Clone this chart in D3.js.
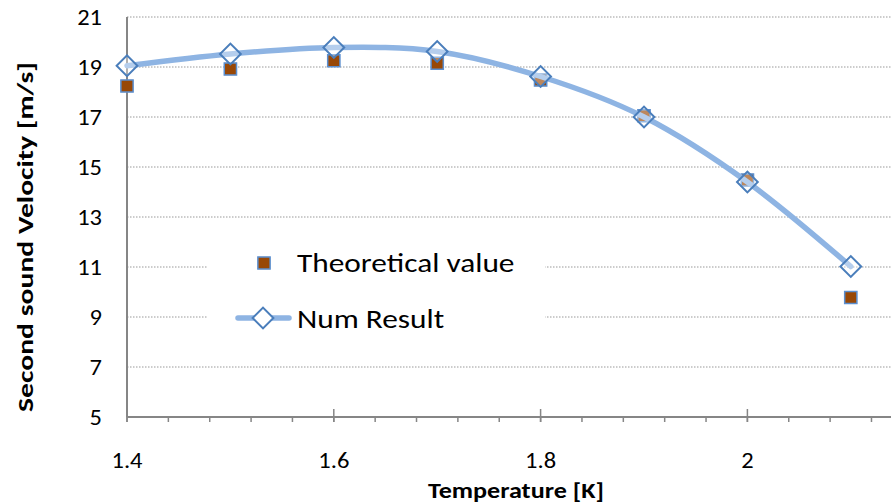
<!DOCTYPE html>
<html lang="en">
<head>
  <meta charset="UTF-8">
  <title>Second sound velocity</title>
  <script src="https://d3js.org/d3.v7.min.js"></script>
  <style>
    body { margin: 0; background: #fff; }
    text { font-family: Calibri, Carlito, Lato, sans-serif; fill: #000; }
  </style>
</head>
<body>
<svg width="891" height="504"></svg>
<script>
  // data
  var temperature = [1.4, 1.5, 1.6, 1.7, 1.8, 1.9, 2.0, 2.1];
  var theoretical = [18.24, 18.92, 19.25, 19.15, 18.48, 17.05, 14.48, 9.78];
  var numResult = [19.05, 19.52, 19.78, 19.62, 18.62, 17.0, 14.4, 11.02];
  var yTicks = [5, 7, 9, 11, 13, 15, 17, 19, 21];
  var xTicks = [1.4, 1.6, 1.8, 2.0];
  var xMinorTicks = d3.range(1.4, 2.15, 0.04);

  var svg = d3.select('svg');

  var x = d3.scaleLinear().domain([1.4, 2.15]).range([127, 902.5]);
  var y = d3.scaleLinear().domain([5, 21]).range([417, 17]);
  var right = 891;
  var stretch = 1.14; // text in the original is a little wide

  var axisColor = '#868686';

  // gridlines
  svg.append('g')
    .selectAll('line')
    .data(yTicks.filter(function (d) { return d > 5; }))
    .enter().append('line')
    .attr('x1', x(1.4))
    .attr('x2', right)
    .attr('y1', function (d) { return y(d); })
    .attr('y2', function (d) { return y(d); })
    .attr('stroke', '#999')
    .attr('stroke-width', 1)
    .attr('stroke-dasharray', '1.5,1.5');

  // y tick labels
  svg.append('g')
    .selectAll('text')
    .data(yTicks)
    .enter().append('text')
    .attr('transform', function (d) { return 'translate(102,' + y(d) + ') scale(' + stretch + ',1)'; })
    .attr('dy', '0.36em')
    .attr('text-anchor', 'end')
    .style('font-size', '21.5px')
    .text(function (d) { return d; });

  // x minor ticks (outside)
  svg.append('g')
    .selectAll('line')
    .data(xMinorTicks)
    .enter().append('line')
    .attr('x1', function (d) { return x(d); })
    .attr('x2', function (d) { return x(d); })
    .attr('y1', y(5))
    .attr('y2', y(5) + 5)
    .attr('stroke', axisColor)
    .attr('stroke-width', 1.5);

  // x major ticks (cross)
  svg.append('g')
    .selectAll('line')
    .data(xTicks)
    .enter().append('line')
    .attr('x1', function (d) { return x(d); })
    .attr('x2', function (d) { return x(d); })
    .attr('y1', y(5) - 8)
    .attr('y2', y(5) + 5)
    .attr('stroke', axisColor)
    .attr('stroke-width', 1.5);

  // x tick labels
  svg.append('g')
    .selectAll('text')
    .data(xTicks)
    .enter().append('text')
    .attr('transform', function (d) { return 'translate(' + x(d) + ',468) scale(' + stretch + ',1)'; })
    .attr('text-anchor', 'middle')
    .style('font-size', '21.5px')
    .text(function (d) { return +d.toFixed(1); });

  // axis lines
  svg.append('line')
    .attr('x1', x(1.4)).attr('x2', x(1.4))
    .attr('y1', y(21)).attr('y2', y(5))
    .attr('stroke', axisColor).attr('stroke-width', 2);
  svg.append('line')
    .attr('x1', x(1.4)).attr('x2', right)
    .attr('y1', y(5)).attr('y2', y(5))
    .attr('stroke', axisColor).attr('stroke-width', 2);

  // axis titles
  svg.append('text')
    .attr('transform', 'translate(33,237) rotate(-90)')
    .attr('text-anchor', 'middle')
    .attr('textLength', 350)
    .attr('lengthAdjust', 'spacingAndGlyphs')
    .style('font-size', '22px')
    .style('font-weight', 'bold')
    .text('Second sound Velocity [m/s]');

  svg.append('text')
    .attr('x', 516)
    .attr('y', 498)
    .attr('text-anchor', 'middle')
    .attr('textLength', 176)
    .attr('lengthAdjust', 'spacingAndGlyphs')
    .style('font-size', '22px')
    .style('font-weight', 'bold')
    .text('Temperature [K]');

  var theo = temperature.map(function (t, i) { return {t: t, v: theoretical[i]}; });
  var num = temperature.map(function (t, i) { return {t: t, v: numResult[i]}; });

  var square = d3.symbol().type(d3.symbolSquare).size(150);
  var diamond = d3.symbol().type(d3.symbolSquare).size(215);

  // theoretical squares
  svg.append('g')
    .selectAll('path')
    .data(theo)
    .enter().append('path')
    .attr('transform', function (d) { return 'translate(' + x(d.t) + ',' + y(d.v) + ')'; })
    .attr('d', square)
    .attr('fill', '#984807')
    .attr('stroke', '#5b8fd0')
    .attr('stroke-width', 1.5);

  // smoothed num result line
  var line = d3.line()
    .x(function (d) { return x(d.t); })
    .y(function (d) { return y(d.v); })
    .curve(d3.curveCatmullRom.alpha(0));

  svg.append('path')
    .datum(num)
    .attr('fill', 'none')
    .attr('stroke', '#8eb4e3')
    .attr('stroke-width', 5.5)
    .attr('stroke-linecap', 'round')
    .attr('d', line);

  svg.append('g')
    .selectAll('path')
    .data(num)
    .enter().append('path')
    .attr('transform', function (d) { return 'translate(' + x(d.t) + ',' + y(d.v) + ') rotate(45)'; })
    .attr('d', diamond)
    .attr('fill', '#fff')
    .attr('fill-opacity', 0.35)
    .attr('stroke', '#4a7ebb')
    .attr('stroke-width', 2);

  // legend
  var legend = svg.append('g');
  legend.append('rect')
    .attr('x', 208).attr('y', 232)
    .attr('width', 337).attr('height', 112)
    .attr('fill', '#fff');

  legend.append('path')
    .attr('transform', 'translate(264,263)')
    .attr('d', square)
    .attr('fill', '#984807')
    .attr('stroke', '#5b8fd0')
    .attr('stroke-width', 1.5);
  legend.append('text')
    .attr('transform', 'translate(297,272) scale(' + stretch + ',1)')
    .style('font-size', '27.5px')
    .text('Theoretical value');

  legend.append('line')
    .attr('x1', 238).attr('x2', 289)
    .attr('y1', 318).attr('y2', 318)
    .attr('stroke', '#8eb4e3')
    .attr('stroke-width', 5.5)
    .attr('stroke-linecap', 'round');
  legend.append('path')
    .attr('transform', 'translate(263,318) rotate(45)')
    .attr('d', diamond)
    .attr('fill', '#fff')
    .attr('stroke', '#4a7ebb')
    .attr('stroke-width', 2);
  legend.append('text')
    .attr('transform', 'translate(297,328) scale(' + stretch + ',1)')
    .style('font-size', '27.5px')
    .text('Num Result');
</script>
</body>
</html>
